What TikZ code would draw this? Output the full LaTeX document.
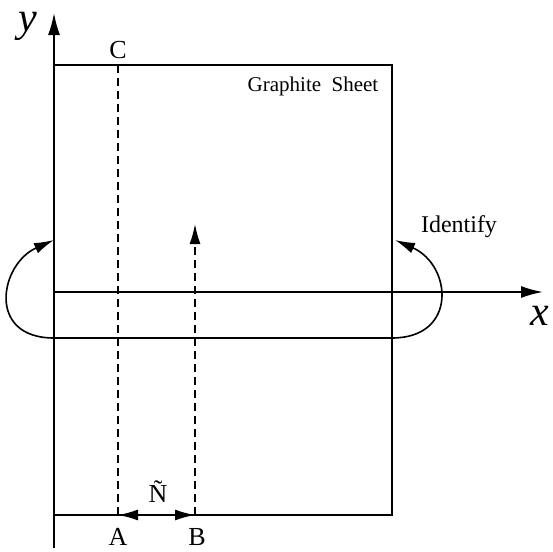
\documentclass[tikz,border=0pt]{standalone}
\usepackage{fontspec}
\setmainfont{Liberation Serif}
\usetikzlibrary{arrows.meta,positioning}

\begin{document}
\begin{tikzpicture}[x=0.5pt,y=-0.5pt,
  lbl/.style={inner sep=0pt,font=\fontsize{13}{15}\selectfont},
  big/.style={inner sep=0pt,font=\fontsize{21}{23}\selectfont\itshape},
  axis/.style={-{Latex[length=11pt,width=6pt]}, line width=0.9pt},
  arrow/.style={-{Latex[length=10pt,width=5.5pt]}, line width=0.8pt},
  dbl/.style={{Latex[length=10pt,width=5.5pt]}-{Latex[length=10pt,width=5.5pt]}, line width=0.8pt},
  dashline/.style={dash pattern=on 4pt off 2.5pt, line width=0.8pt}]
  \useasboundingbox (0,0) rectangle (553,552);
  % sheet and axes
  \coordinate (SW) at (54,515);
  \coordinate (NE) at (392,65);
  \draw[line width=0.8pt] (SW) rectangle (NE);
  \coordinate (y0) at (54,548); \coordinate (y1) at (54,13);
  \coordinate (x0) at (54,292); \coordinate (x1) at (543,292);
  \draw[axis] (y0) -- (y1);
  \draw[axis] (x0) -- (x1);
  \node[big] (ylab) at (28,26) {y};
  \node[big] (xlab) at (540,316) {x};
  \node[lbl,font=\fontsize{10.5}{12}\selectfont] (sheet) at (313,86) {Graphite\ \ Sheet};
  % identification strip
  \coordinate (s0) at (54,338); \coordinate (s1) at (392,338);
  \coordinate (e0) at (54,240); \coordinate (e1) at (395,240);
  \draw[line width=0.8pt] (s0) -- (s1);
  \draw[arrow] (s0) .. controls (-14,338) and (0,264) .. (e0);
  \draw[arrow] (s1) .. controls (458,338) and (452,265) .. (e1);
  \node[lbl,font=\fontsize{12}{14}\selectfont] (ident) at (459,227) {Identify};
  % points
  \coordinate (a) at (118,515); \coordinate (c) at (118,65);
  \coordinate (b) at (195,515); \coordinate (bt) at (195,224);
  \node[lbl] (A) at (118,537) {A};
  \node[lbl] (B) at (197,537) {B};
  \node[lbl] (C) at (118,50) {C};
  \draw[dashline] (a) -- (c);
  \draw[dashline,-{Latex[length=10pt,width=5.5pt]}] (b) -- (bt);
  \draw[dbl] (a) -- (b);
  \node[lbl] (N) at (158,492) {\~N};
\end{tikzpicture}
\end{document}
